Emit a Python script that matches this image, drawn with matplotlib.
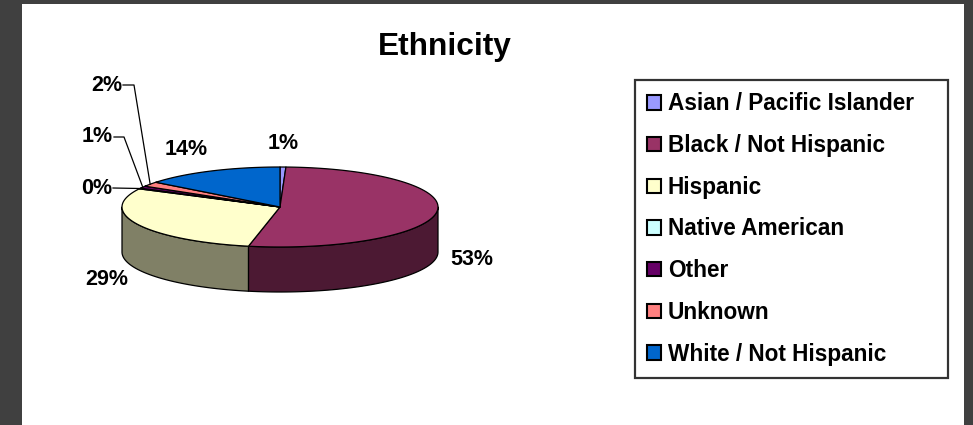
import numpy as np
import matplotlib.pyplot as plt
from matplotlib.patches import Polygon, Rectangle, Patch

# data (percent of total)
categories = ['Asian / Pacific Islander', 'Black / Not Hispanic', 'Hispanic',
              'Native American', 'Other', 'Unknown', 'White / Not Hispanic']
values = [0.6, 52.6, 29.3, 0.3, 0.9, 1.9, 14.4]
colors = ['#9999FF', '#993366', '#FFFFCC', '#CCFFFF', '#660066', '#FF8080', '#0066CC']
side_colors = ['#4C4C80', '#4C1933', '#808066', '#668080', '#330033', '#804040', '#003366']

# layout in pixels
W, H = 973, 425
cx, cy = 280, 207        # centre of top ellipse
a, b = 158, 40           # ellipse half axes
depth = 45
# small slices get stacked labels with leader lines: (text right x, text y, elbow x)
leader = {3: (112, 188, None), 4: (113, 137, 124), 5: (122, 85, 134)}

plt.rcParams['font.family'] = ['Liberation Sans', 'DejaVu Sans']

fig = plt.figure(figsize=(W / 100, H / 100), dpi=100, facecolor='#404040')
ax = fig.add_axes([0, 0, 1, 1])
ax.set_xlim(0, W)
ax.set_ylim(H, 0)
ax.axis('off')
ax.add_patch(Rectangle((22, 4), 942, 430, facecolor='white', edgecolor='none'))

def pt(theta, dy=0):
    t = np.radians(theta)
    return cx + a * np.cos(t), cy - b * np.sin(t) + dy

total = sum(values)
frac = np.array(values) / total
cum = np.concatenate([[0], np.cumsum(frac)])
starts = 90 - 360 * cum[:-1]
ends = 90 - 360 * cum[1:]

# outer walls, front half only (theta between -180 and 0)
for i in range(len(values)):
    t0 = min(starts[i], 0)
    t1 = max(ends[i], -180)
    if t0 <= t1:
        continue
    th = np.linspace(t0, t1, 60)
    top = [pt(t) for t in th]
    bot = [pt(t, depth) for t in th[::-1]]
    ax.add_patch(Polygon(top + bot, closed=True, facecolor=side_colors[i],
                         edgecolor='black', linewidth=0.9, joinstyle='round'))

# top faces
for i in range(len(values)):
    th = np.linspace(starts[i], ends[i], 120)
    verts = [(cx, cy)] + [pt(t) for t in th]
    ax.add_patch(Polygon(verts, closed=True, facecolor=colors[i],
                         edgecolor='black', linewidth=0.9, joinstyle='round'))

# percentage labels
lab_kw = dict(fontsize=15.5, fontweight='bold', color='black')
for i, v in enumerate(values):
    tm = (starts[i] + ends[i]) / 2
    txt = f'{round(v)}%'
    if i in leader:
        tx, ty, ex = leader[i]
        ax.text(tx, ty, txt, ha='right', va='center', **lab_kw)
        axx, ayy = pt(tm)
        xs = [tx + 1] + ([ex] if ex else []) + [axx]
        ys = [ty] + ([ty] if ex else []) + [ayy]
        ax.plot(xs, ys, color='black', lw=0.9)
    else:
        t = np.radians(tm)
        lx = cx + 1.22 * a * np.cos(t) - (10 if np.cos(t) < -0.3 and np.sin(t) > 0 else 0)
        ly = cy - 1.6 * b * np.sin(t) + (depth if np.sin(t) < 0 else 0)
        ax.text(lx, ly, txt, ha='center', va='center', **lab_kw)

ax.text(445, 55, 'Ethnicity', ha='center', va='baseline', fontsize=22.8,
        fontweight='bold')

handles = [Patch(facecolor=c, edgecolor='black', linewidth=1.5) for c in colors]
leg = ax.legend(handles, categories, loc='upper left', mode='expand',
                bbox_to_anchor=(635 / W, 1 - 378 / H, 313 / W, 298 / H),
                bbox_transform=fig.transFigure, borderaxespad=0,
                prop={'weight': 'bold', 'size': 16.3}, frameon=True, fancybox=False,
                handlelength=0.6, handleheight=0.6, handletextpad=0.3,
                labelspacing=0.825, borderpad=0.55)
leg.get_frame().set_edgecolor('black')
leg.get_frame().set_linewidth(1.6)

fig.savefig('out.png', dpi=100, facecolor=fig.get_facecolor())
